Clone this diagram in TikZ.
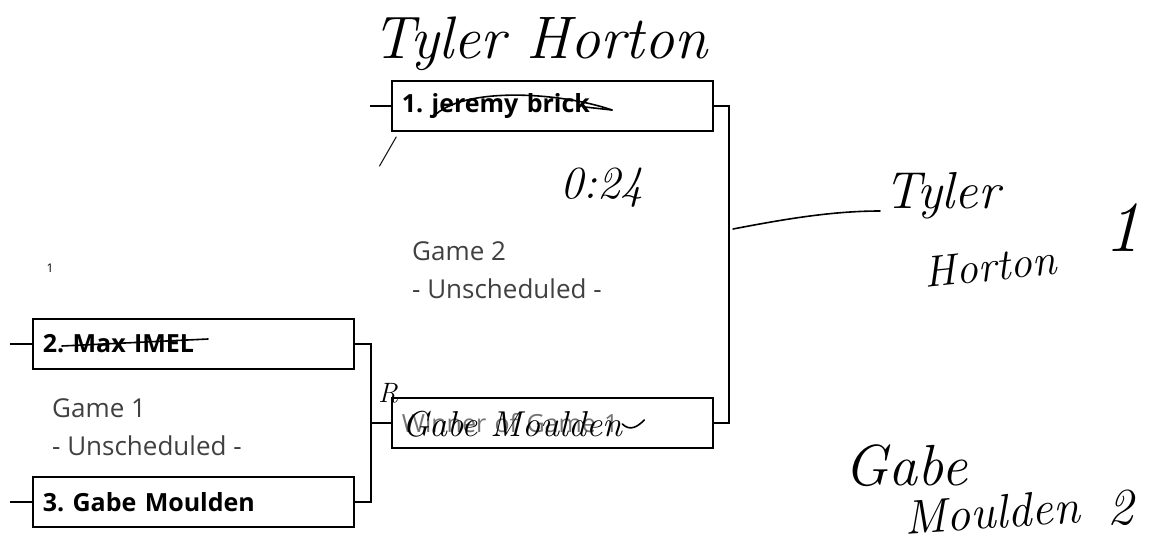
\documentclass[tikz,border=0pt]{standalone}
\usepackage{fontspec}
\setsansfont{Open Sans}
\usetikzlibrary{positioning}
\frenchspacing
\tikzset{
  slot/.style   = {draw, line width=1.8pt, anchor=north west, minimum height=50pt, text width=301pt, inner xsep=10pt, inner ysep=0pt, align=left, font=\sffamily\bfseries\fontsize{25}{28}\selectfont},
  info/.style   = {anchor=north west, inner sep=0pt, align=left, text=black!75, font=\sffamily\fontsize{26}{38}\selectfont},
  wire/.style   = {line width=1.8pt},
  hand/.style   = {inner sep=0pt, font=\itshape\fontsize{52}{56}\selectfont},
  scrawl/.style = {line width=1.6pt, line cap=round},
}
\begin{document}
\begin{tikzpicture}[x=1pt, y=-1pt]
  \useasboundingbox (0,0) rectangle (1155,544);
  % slots of game 2
  \node[slot] (p1) at (391,80) {1. jeremy brick};
  \node[slot, font=\sffamily\fontsize{25}{28}\selectfont, text=black!55] (w1) at (391,397) {Winner of Game 1};
  % slots of game 1
  \node[slot] (p2) at (32,318) {2. Max IMEL};
  \node[slot] (p3) at (32,476) {3. Gabe Moulden};
  \node[info, below right=29pt and 20pt of p2.south west] (g1) {Game 1\\- Unscheduled -};
  \node[info, below right=110pt and 21pt of p1.south west] (g2) {Game 2\\- Unscheduled -};
  % bracket wires
  \coordinate[left=21pt of p1.west] (in1);
  \coordinate[left=22pt of p2.west] (in2);
  \coordinate[left=22pt of p3.west] (in3);
  \draw[wire] (in1) -- (p1.west);
  \draw[wire] (in2) -- (p2.west);
  \draw[wire] (in3) -- (p3.west);
  \draw[wire] (p2.east) -- ++(16,0) coordinate (j1) |- (p3.east);
  \draw[wire] (j1 |- w1.west) -- (w1.west);
  \draw[wire] (p1.east) -- ++(15,0) coordinate (j2) |- (w1.east);
  % pen marks
  \node[hand, font=\itshape\fontsize{60}{64}\selectfont] (top) at (540,44) {Tyler Horton};
  \draw[scrawl] (433,117) .. controls (462,86) and (560,92) .. (612,110);
  \draw[scrawl] (585,107) -- (612,110);
  \draw[scrawl] (62,346) -- (208,339);
  \node[hand, font=\itshape\fontsize{30}{34}\selectfont] (slash) at (386,152) {/};
  \node[hand, font=\itshape\fontsize{46}{50}\selectfont] (score) at (602,188) {0:24};
  \node[hand, font=\itshape\fontsize{28}{32}\selectfont] (rmark) at (388,393) {R};
  \node[hand, font=\itshape\fontsize{36}{40}\selectfont, anchor=west] (gm) at (402,424) {Gabe Moulden};
  \draw[scrawl] (gm.east) .. controls ++(8,8) and ++(-6,6) .. ++(22,-4);
  \coordinate (fin) at (733,229);
  \draw[scrawl] (fin) .. controls (780,220) and (830,211) .. (880,211);
  \node[hand] (c1) at (942,196) {Tyler};
  \node[hand, rotate=6, font=\itshape\fontsize{44}{48}\selectfont] (c2) at (990,266) {Horton};
  \node[hand, font=\itshape\fontsize{72}{76}\selectfont] (c3) at (1122,228) {1};
  \node[hand, font=\itshape\fontsize{58}{62}\selectfont] (s1) at (906,466) {Gabe};
  \node[hand, rotate=4, font=\itshape\fontsize{48}{52}\selectfont] (s2) at (992,512) {Moulden};
  \node[hand] (s3) at (1120,508) {2};
  \node[inner sep=0pt, font=\sffamily\fontsize{12}{14}\selectfont] (dot) at (50,268) {1};
\end{tikzpicture}
\end{document}
